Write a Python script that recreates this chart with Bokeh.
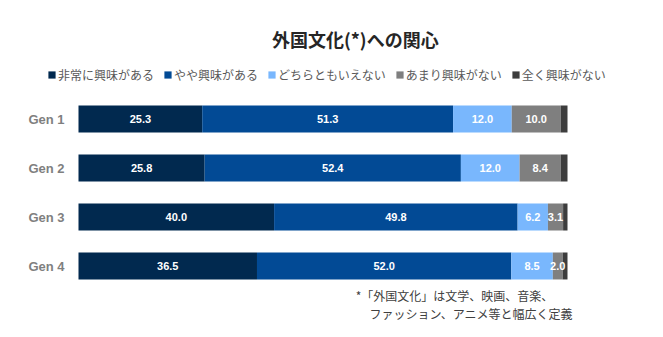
from bokeh.plotting import figure
from bokeh.models import ColumnDataSource, Label, Legend, LegendItem, Range1d
from bokeh.embed import file_html
from bokeh.resources import INLINE
from bokeh.core.properties import value

# ---- data ----
generations = ["Gen 1", "Gen 2", "Gen 3", "Gen 4"]
series_names = ["非常に興味がある", "やや興味がある", "どちらともいえない", "あまり興味がない", "全く興味がない"]
very = [25.3, 25.8, 40.0, 36.5]
somewhat = [51.3, 52.4, 49.8, 52.0]
neutral = [12.0, 12.0, 6.2, 8.5]
not_much = [10.0, 8.4, 3.1, 2.0]
not_at_all = [1.4, 1.4, 0.9, 1.0]
series_colors = ["#01294f", "#024a95", "#79b7fd", "#7f7f7f", "#3d3d3d"]
title_text = "外国文化(*)への関心"
note_line1 = "*「外国文化」は文学、映画、音楽、"
note_line2 = "ファッション、アニメ等と幅広く定義"

series = [very, somewhat, neutral, not_much, not_at_all]
keys = ["s0", "s1", "s2", "s3", "s4"]
n = len(generations)
ypos = [n - i - 0.5 for i in range(n)]  # Gen 1 on top

data = {"gen": generations, "y": ypos}
for k, s in zip(keys, series):
    data[k] = s
source = ColumnDataSource(data)

# frame covers whole canvas; 0..100 maps to px 78..567, 49 px per row
PX = 4.89
x0 = -78 / PX
x1 = (663 - 78) / PX
y_start = 0.5 - 71.5 / 49.0
y_end = y_start + 337 / 49.0

p = figure(width=663, height=337, output_backend="svg", toolbar_location=None,
           x_range=Range1d(x0, x1), y_range=Range1d(y_start, y_end),
           min_border=0)
p.outline_line_color = None
p.xgrid.visible = False
p.ygrid.visible = False
p.xaxis.visible = False
p.yaxis.visible = False
p.background_fill_color = "white"
p.border_fill_color = "white"

renderers = p.hbar_stack(keys, y="y", height=0.55, color=series_colors,
                         line_color=None, source=source)

# category labels
p.text(x=-2.86, y="y", text="gen", source=source, text_color="#7f7f7f",
       text_font=value("Liberation Sans"), text_font_style="bold",
       text_font_size="13px", text_align="right", text_baseline="middle")

# value labels (all but the last series)
lx, ly, lt = [], [], []
for i in range(n):
    left = 0.0
    for j, s in enumerate(series):
        v = s[i]
        if j < len(series) - 1:
            lx.append(left + v / 2.0)
            ly.append(ypos[i])
            lt.append(f"{v:.1f}")
        left += v
lsrc = ColumnDataSource(dict(x=lx, y=ly, t=lt))
p.text(x="x", y="y", text="t", source=lsrc, text_color="white",
       text_font=value("Liberation Sans"), text_font_style="bold",
       text_font_size="11px", text_align="center", text_baseline="middle")

legend = Legend(items=[LegendItem(label=nm, renderers=[r]) for nm, r in zip(series_names, renderers)],
                orientation="horizontal", location=(47, 254),
                glyph_width=9, glyph_height=9, label_standoff=2, spacing=9,
                padding=0, margin=0, label_height=16,
                label_text_font="Noto Sans CJK JP", label_text_font_size="12px",
                label_text_color="#595959", border_line_color=None,
                background_fill_alpha=0)
p.add_layout(legend, "center")

p.add_layout(Label(x=56.6, y=y_end - 38 / 49.0, text=title_text, text_align="center", text_baseline="middle",
                   text_font="Noto Sans CJK JP", text_font_style="bold", text_font_size="18px",
                   text_color="#262626"))
p.add_layout(Label(x=56.7, y=y_end - 295 / 49.0, text=note_line1, text_align="left", text_baseline="middle",
                   text_font="Noto Sans CJK JP", text_font_size="12px", text_color="#404040"))
p.add_layout(Label(x=59.5, y=y_end - 312.6 / 49.0, text=note_line2, text_align="left", text_baseline="middle",
                   text_font="Noto Sans CJK JP", text_font_size="12px", text_color="#404040"))

open("out.html", "w").write(file_html(p, INLINE))
